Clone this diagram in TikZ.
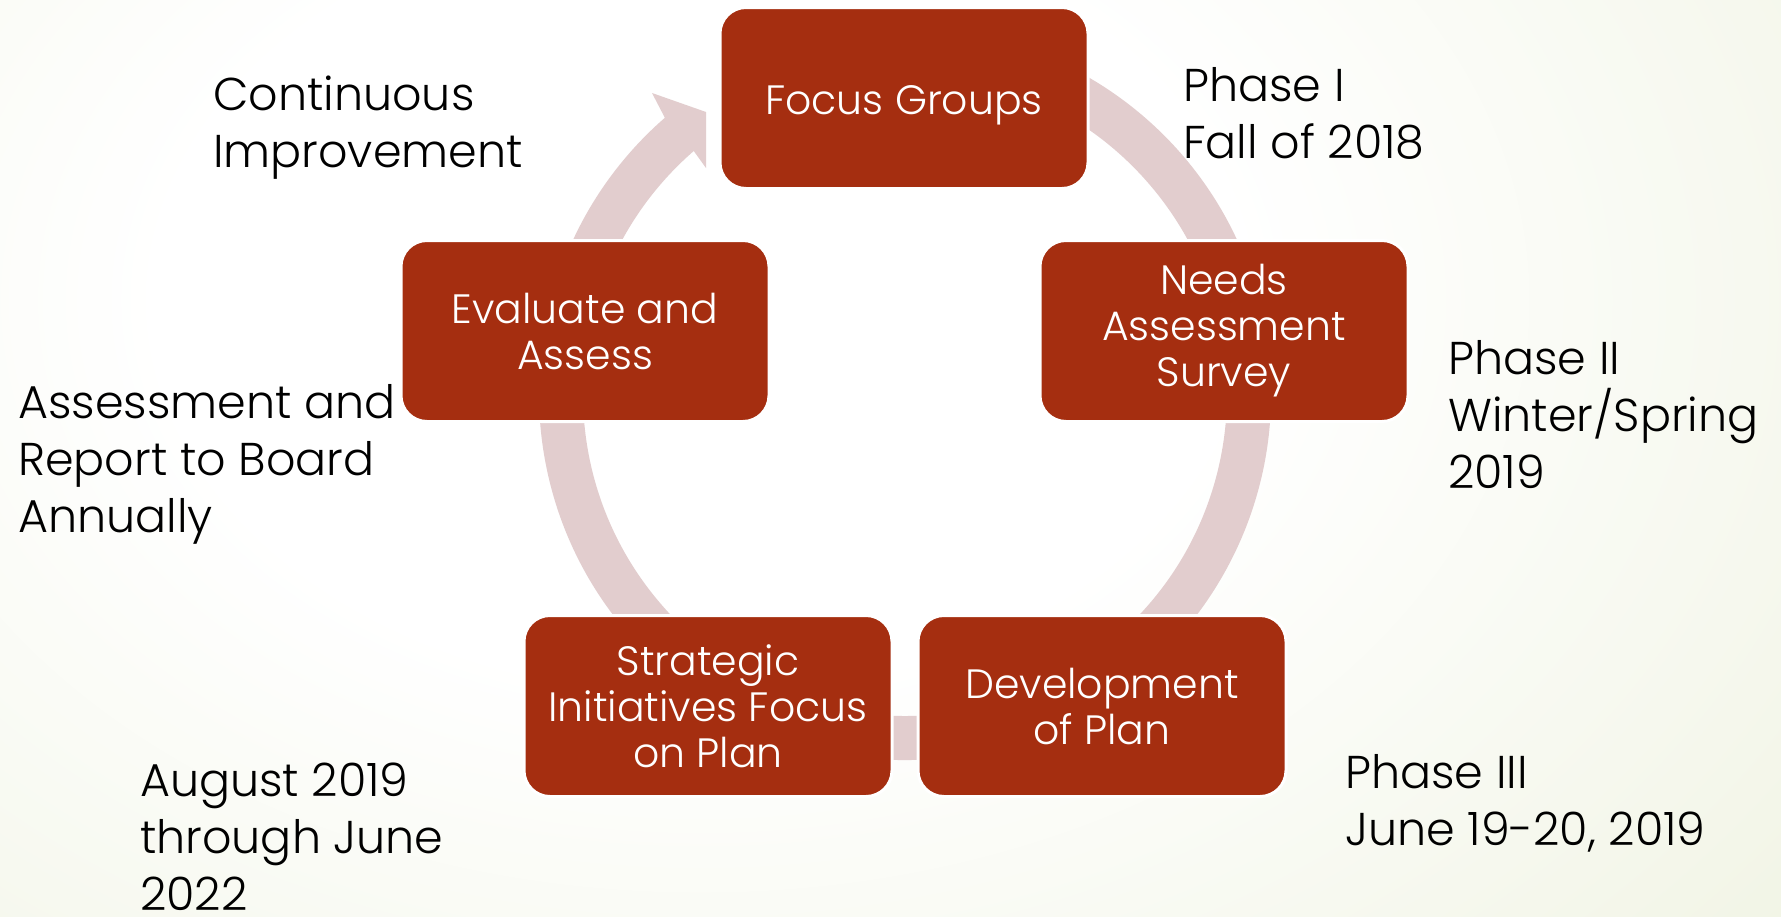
\documentclass[tikz,border=0pt]{standalone}
\usepackage{fontspec}
\setmainfont{Poppins}[UprightFont={* Light}]
\definecolor{boxred}{RGB}{165,46,16}
\definecolor{ringpink}{RGB}{226,205,206}
\definecolor{bgA}{RGB}{246,248,238}
\definecolor{bgB}{RGB}{237,241,222}
\definecolor{bgC}{RGB}{227,234,206}
\definecolor{bgD}{RGB}{220,230,196}
\pgfdeclareradialshading{bgshade}{\pgfpoint{0bp}{0bp}}{color(0bp)=(white); color(12bp)=(white); color(25bp)=(bgA); color(37bp)=(bgB); color(50bp)=(bgC); color(62bp)=(bgD); color(75bp)=(bgD)}
\begin{document}
\begin{tikzpicture}[x=1pt,y=-1pt,
  stage/.style={rectangle, rounded corners=26pt, fill=boxred, draw=white, line width=3pt,
    minimum width=368pt, minimum height=181pt, text=white, align=center,
    font=\fontsize{41}{46}\selectfont, inner sep=0pt},
  note/.style={anchor=base west, align=left, font=\fontsize{46}{57}\selectfont, inner sep=0pt}]
\useasboundingbox (0,0) rectangle (1781,916);
\begin{scope}
  \clip (0,0) rectangle (1781,916);
  \shade[shading=bgshade] (-420,-500) rectangle (1820,1100);
\end{scope}
% ring arrow
\coordinate (c) at (905,394);
\coordinate (ob) at (652,93);
\coordinate (tip) at (706,112);
\coordinate (ib) at (706,168);
\fill[ringpink] ([shift={(-100:366)}]c) arc[start angle=-100, end angle=229, radius=366]
  -- (ob) -- (tip) -- (ib) -- ([shift={(229:322)}]c)
  arc[start angle=229, end angle=-100, radius=322] -- cycle;
% stages
\node[stage, text height=33pt, text depth=0pt] (focus) at (904,98) {Focus Groups};
\node[stage] (needs) at (1224,331) {Needs\\Assessment\\Survey};
\node[stage] (dev) at (1102,706) {Development\\of Plan};
\node[stage] (strat) at (708,706) {Strategic\\Initiatives Focus\\on Plan};
\node[stage] (eval) at (585,331) {Evaluate and\\Assess};
% notes (anchored at the baseline of the last line)
\node[note] (ci) at (213,167) {Continuous\\Improvement};
\node[note] (p1) at (1183,158) {Phase I\\Fall of 2018};
\node[note] (p2) at (1448,488) {Phase II\\Winter/Spring\\2019};
\node[note] (ar) at (18,532) {Assessment and\\Report to Board\\Annually};
\node[note] (aug) at (140,910) {August 2019\\through June\\2022};
\node[note] (p3) at (1345,845) {Phase III\\June 19-20, 2019};
\end{tikzpicture}
\end{document}
